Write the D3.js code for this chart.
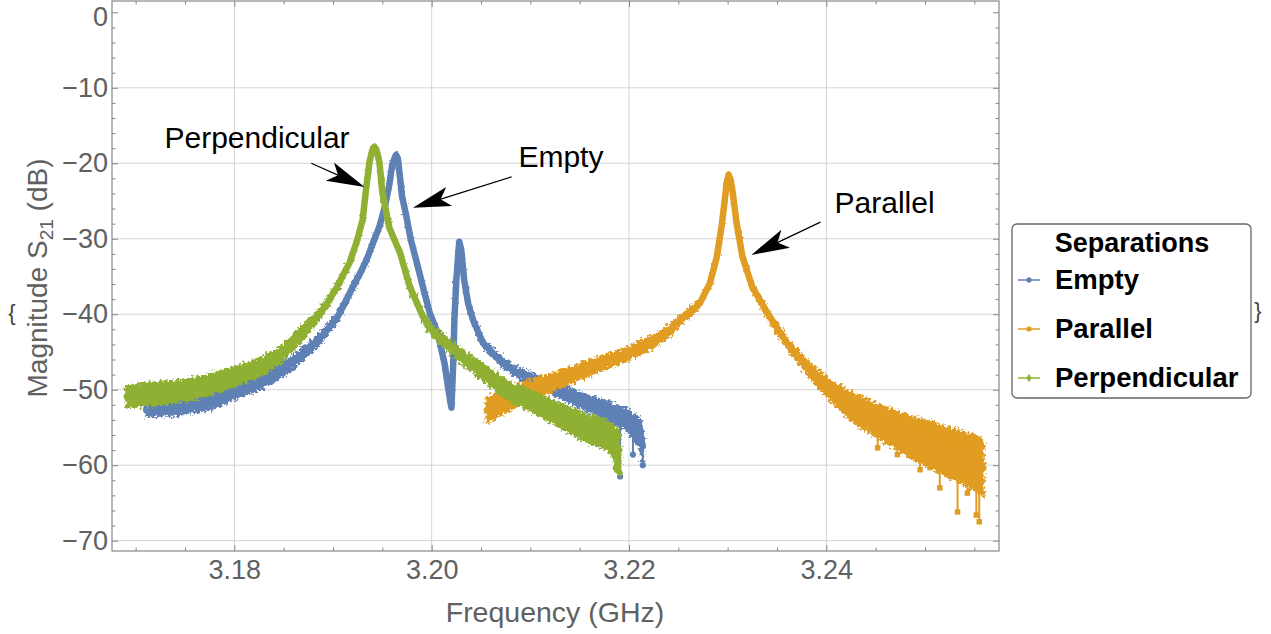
<!DOCTYPE html>
<html>
<head>
<meta charset="utf-8">
<script src="https://cdn.jsdelivr.net/npm/d3@7"></script>
<style>
  body { margin: 0; background: #fff; }
  svg { display: block; font-family: "Liberation Sans", Arial, sans-serif; }
</style>
</head>
<body>
<svg id="chart" width="1271" height="634"></svg>
<script>
// values (GHz, dB, noise half-width in dB)
const emptyFreq = [3.1711, 3.1724, 3.1742, 3.1755, 3.1775, 3.1798, 3.1826, 3.1846, 3.1859, 3.1871,
  3.1883, 3.1894, 3.1904, 3.1912, 3.1920, 3.1927, 3.1934, 3.1941, 3.1947, 3.1953, 3.1957, 3.1960,
  3.1963, 3.1964, 3.1966, 3.1968, 3.1970, 3.1974, 3.1979, 3.1985, 3.1992, 3.1998, 3.2006, 3.2013,
  3.2017, 3.2020, 3.2022, 3.2023, 3.2025, 3.2027, 3.2028, 3.2030, 3.2033, 3.2037, 3.2042, 3.2052,
  3.2066, 3.2082, 3.2102, 3.2127, 3.2150, 3.2177, 3.2198, 3.2211, 3.2214];
const emptyMag = [-52.5, -52.4, -52.4, -52.0, -51.6, -50.3, -49.0, -47.5, -46.5, -45.0,
  -43.7, -42.1, -40.5, -38.5, -36.4, -34.7, -32.8, -30.4, -28.4, -25.5, -22.9, -20.2,
  -19.1, -18.9, -19.6, -22.0, -24.4, -26.8, -30.2, -33.2, -36.8, -39.8, -42.5, -46.5,
  -50.0, -52.4, -46.0, -40.8, -35.5, -31.9, -30.4, -31.5, -35.5, -38.6, -40.8, -43.8,
  -45.7, -47.4, -48.7, -50.0, -51.4, -52.7, -54.0, -55.8, -57.5];
const emptyNoise = [1.0, 1.0, 1.0, 1.0, 1.0, 0.95, 0.9, 0.85, 0.8, 0.7,
  0.6, 0.5, 0.45, 0.4, 0.35, 0.3, 0.2, 0.15, 0.1, 0.1, 0.1, 0.1,
  0.1, 0.1, 0.1, 0.1, 0.1, 0.1, 0.1, 0.1, 0.1, 0.1, 0.1, 0.1,
  0.1, 0.1, 0.1, 0.1, 0.1, 0.1, 0.1, 0.1, 0.1, 0.2, 0.3, 0.4,
  0.5, 0.6, 0.75, 0.85, 0.95, 1.1, 1.3, 1.9, 2.1];
const emptySpikeFreq = [3.2191, 3.2204, 3.2214];
const emptySpikeMag = [-61.5, -58.6, -60.0];

const parallelFreq = [3.2056, 3.2064, 3.2076, 3.2092, 3.2110, 3.2127, 3.2143, 3.2160, 3.2177, 3.2194,
  3.2211, 3.2228, 3.2244, 3.2254, 3.2265, 3.2272, 3.2282, 3.2289, 3.2294, 3.2297, 3.2299, 3.2301,
  3.2303, 3.2305, 3.2309, 3.2315, 3.2325, 3.2340, 3.2360, 3.2380, 3.2403, 3.2421, 3.2437, 3.2454,
  3.2471, 3.2488, 3.2505, 3.2522, 3.2538, 3.2555, 3.2559];
const parallelMag = [-52.7, -52.2, -51.4, -50.4, -49.6, -48.8, -48.0, -47.1, -46.3, -45.5,
  -44.5, -43.4, -41.8, -40.5, -39.4, -38.5, -35.9, -32.4, -28.2, -24.9, -22.6, -21.5,
  -22.2, -23.8, -27.9, -32.4, -36.4, -39.8, -43.8, -47.0, -50.0, -51.8, -53.1, -54.3,
  -55.3, -56.4, -57.3, -58.2, -59.0, -60.0, -60.4];
const parallelNoise = [1.6, 1.5, 1.4, 1.3, 1.2, 1.1, 1.0, 0.95, 0.9, 0.85,
  0.8, 0.75, 0.6, 0.5, 0.45, 0.4, 0.3, 0.2, 0.1, 0.1, 0.1, 0.1,
  0.1, 0.1, 0.1, 0.2, 0.3, 0.45, 0.6, 0.8, 1.2, 1.7, 2.0, 2.2,
  2.4, 2.7, 3.0, 3.2, 3.4, 3.6, 3.6];
const parallelSpikeFreq = [3.2452, 3.2472, 3.2495, 3.2505, 3.2515, 3.2533, 3.2543, 3.2552, 3.2555];
const parallelSpikeMag = [-57.7, -58.6, -60.6, -60.3, -63.0, -66.2, -63.7, -66.6, -67.5];

const perpFreq = [3.1691, 3.1704, 3.1724, 3.1742, 3.1758, 3.1778, 3.1798, 3.1826, 3.1846, 3.1859,
  3.1871, 3.1883, 3.1894, 3.1904, 3.1917, 3.1924, 3.1930, 3.1933, 3.1937, 3.1940, 3.1942, 3.1944,
  3.1947, 3.1950, 3.1954, 3.1957, 3.1968, 3.1978, 3.1991, 3.2001, 3.2011, 3.2026, 3.2042, 3.2059,
  3.2076, 3.2092, 3.2109, 3.2127, 3.2143, 3.2160, 3.2177, 3.2184, 3.2190];
const perpMag = [-50.9, -50.7, -50.5, -50.2, -49.9, -49.2, -48.4, -47.0, -45.5, -43.8,
  -42.2, -40.5, -38.6, -36.4, -33.1, -30.4, -27.5, -24.0, -19.8, -18.2, -17.8, -18.2,
  -19.8, -23.9, -26.5, -28.5, -31.9, -36.4, -40.3, -42.3, -43.4, -45.1, -46.7, -48.4,
  -50.0, -51.0, -52.0, -53.2, -54.3, -55.2, -56.0, -56.8, -58.0];
const perpNoise = [1.4, 1.45, 1.45, 1.4, 1.35, 1.3, 1.2, 1.1, 1.0, 0.9,
  0.8, 0.65, 0.5, 0.4, 0.3, 0.2, 0.15, 0.1, 0.1, 0.1, 0.1, 0.1,
  0.1, 0.1, 0.1, 0.1, 0.15, 0.3, 0.45, 0.6, 0.7, 0.8, 0.95, 1.05,
  1.15, 1.25, 1.35, 1.5, 1.7, 1.8, 1.9, 2.0, 2.3];
const perpSpikeFreq = [3.2186, 3.2188, 3.2191];
const perpSpikeMag = [-60.4, -60.6, -61.0];

const legendTitle = "Separations";
const seriesNames = ["Empty", "Parallel", "Perpendicular"];
const xMajor = [3.18, 3.20, 3.22, 3.24];
const yMajor = [0, -10, -20, -30, -40, -50, -60, -70];

// annotations: [label, text freq, text dB, arrow start freq, dB, arrow tip freq, dB]
const notes = [
  ["Perpendicular", 3.1823, -18.0, 3.1878, -20.0, 3.1932, -23.15],
  ["Empty", 3.2131, -20.5, 3.2081, -21.8, 3.1981, -25.9],
  ["Parallel", 3.2459, -26.6, 3.2394, -27.8, 3.2324, -32.15]
];

const colors = ["#5e81b5", "#e19c24", "#8fb032"];
const symbols = [d3.symbolCircle, d3.symbolSquare, d3.symbolDiamond];

const svg = d3.select("#chart");
const frame = {left: 112, right: 999, top: 1, bottom: 551};

const x = d3.scaleLinear().domain([3.1676, 3.2575]).range([frame.left, frame.right]);
const y = d3.scaleLinear().domain([-71.37, 1.5]).range([frame.bottom, frame.top]);

const defs = svg.append("defs");
const rough = defs.append("filter").attr("id", "rough")
  .attr("x", "-5%").attr("y", "-5%").attr("width", "110%").attr("height", "110%");
rough.append("feTurbulence").attr("type", "fractalNoise").attr("baseFrequency", 0.35)
  .attr("numOctaves", 2).attr("seed", 4).attr("result", "noise");
rough.append("feDisplacementMap").attr("in", "SourceGraphic").attr("in2", "noise")
  .attr("scale", 9).attr("xChannelSelector", "R").attr("yChannelSelector", "G");
defs.append("clipPath").attr("id", "plotclip").append("rect")
  .attr("x", frame.left).attr("y", frame.top)
  .attr("width", frame.right - frame.left).attr("height", frame.bottom - frame.top);

// grid
const grid = svg.append("g").attr("stroke", "#d4d4d4").attr("stroke-width", 1);
grid.selectAll(".gx").data(xMajor).enter().append("line")
  .attr("x1", d => x(d)).attr("x2", d => x(d))
  .attr("y1", frame.top).attr("y2", frame.bottom);
grid.selectAll(".gy").data(yMajor.filter(d => d !== 0)).enter().append("line")
  .attr("y1", d => y(d)).attr("y2", d => y(d))
  .attr("x1", frame.left).attr("x2", frame.right);

// series
const series = [
  {f: emptyFreq, m: emptyMag, n: emptyNoise, sf: emptySpikeFreq, sm: emptySpikeMag},
  {f: parallelFreq, m: parallelMag, n: parallelNoise, sf: parallelSpikeFreq, sm: parallelSpikeMag},
  {f: perpFreq, m: perpMag, n: perpNoise, sf: perpSpikeFreq, sm: perpSpikeMag}
];

const plot = svg.append("g").attr("clip-path", "url(#plotclip)");
series.forEach((s, i) => {
  const pts = s.f.map((f, k) => ({f: f, m: s.m[k], n: s.n[k]}));
  const g = plot.append("g");
  const interp = d3.scaleLinear().domain(s.f).range(s.m);
  const band = d3.area()
    .x(d => x(d.f))
    .y0(d => y(d.m - d.n))
    .y1(d => y(d.m + d.n));
  g.append("path").datum(pts).attr("d", band)
    .attr("fill", colors[i]).attr("stroke", colors[i]).attr("stroke-width", 3)
    .attr("filter", "url(#rough)");
  g.append("path").datum(pts)
    .attr("d", d3.line().x(d => x(d.f)).y(d => y(d.m)))
    .attr("fill", "none").attr("stroke", colors[i]).attr("stroke-width", 6.5)
    .attr("stroke-linejoin", "round").attr("stroke-linecap", "round");
  const spikes = s.sf.map((f, k) => ({f: f, m: s.sm[k]}));
  g.selectAll(".spk").data(spikes).enter().append("line")
    .attr("x1", d => x(d.f)).attr("x2", d => x(d.f))
    .attr("y1", d => y(interp(d.f))).attr("y2", d => y(d.m))
    .attr("stroke", colors[i]).attr("stroke-width", 2);
  g.selectAll(".spm").data(spikes).enter().append("path")
    .attr("d", d3.symbol().type(symbols[i]).size(30))
    .attr("transform", d => `translate(${x(d.f)},${y(d.m)})`)
    .attr("fill", colors[i]);
});

// frame and ticks
const axisColor = "#888";
const tickText = "#606060";
function styleAxis(g) {
  g.select(".domain").remove();
  g.selectAll(".tick line").attr("stroke", axisColor);
  g.selectAll(".tick text").attr("fill", tickText).attr("font-size", 27);
}
const xMinor = d3.range(3.17, 3.256, 0.005).filter(v => !xMajor.some(m => Math.abs(m - v) < 1e-6));
const yMinor = d3.range(0, -71, -2).filter(v => v % 10 !== 0);

svg.append("g").attr("transform", `translate(0,${frame.bottom})`)
  .call(d3.axisBottom(x).tickValues(xMajor).tickFormat(d3.format(".2f")).tickSize(-6).tickPadding(9))
  .call(styleAxis);
svg.append("g").attr("transform", `translate(0,${frame.bottom})`)
  .call(d3.axisBottom(x).tickValues(xMinor).tickFormat("").tickSize(-3.5)).call(styleAxis);
svg.append("g").attr("transform", `translate(0,${frame.top})`)
  .call(d3.axisTop(x).tickValues(xMajor).tickFormat("").tickSize(-6)).call(styleAxis);
svg.append("g").attr("transform", `translate(0,${frame.top})`)
  .call(d3.axisTop(x).tickValues(xMinor).tickFormat("").tickSize(-3.5)).call(styleAxis);
const yAxisG = svg.append("g").attr("transform", `translate(${frame.left},0)`)
  .call(d3.axisLeft(y).tickValues(yMajor).tickFormat(d3.format("d")).tickSize(-6).tickPadding(4))
  .call(styleAxis);
// the top label sits against the page edge; nudge it down a little so it stays whole
yAxisG.selectAll(".tick text").filter(d => d === 0).attr("dy", "0.47em");
svg.append("g").attr("transform", `translate(${frame.left},0)`)
  .call(d3.axisLeft(y).tickValues(yMinor).tickFormat("").tickSize(-3.5)).call(styleAxis);
svg.append("g").attr("transform", `translate(${frame.right},0)`)
  .call(d3.axisRight(y).tickValues(yMajor).tickFormat("").tickSize(-6)).call(styleAxis);
svg.append("g").attr("transform", `translate(${frame.right},0)`)
  .call(d3.axisRight(y).tickValues(yMinor).tickFormat("").tickSize(-3.5)).call(styleAxis);
svg.selectAll("g text").attr("font-family", "'Liberation Sans', Arial, sans-serif");

svg.append("rect").attr("x", frame.left).attr("y", frame.top)
  .attr("width", frame.right - frame.left).attr("height", frame.bottom - frame.top)
  .attr("fill", "none").attr("stroke", axisColor).attr("stroke-width", 1.2);

// axis labels
svg.append("text").attr("x", 555).attr("y", 622).attr("text-anchor", "middle")
  .attr("font-size", 28.5).attr("fill", tickText).text("Frequency (GHz)");
const yl = svg.append("text").attr("transform", "translate(47,278) rotate(-90)")
  .attr("text-anchor", "middle").attr("font-size", 28).attr("fill", tickText);
yl.append("tspan").text("Magnitude S");
yl.append("tspan").attr("font-size", 19).attr("dy", 6).text("21");
yl.append("tspan").attr("dy", -6).text(" (dB)");

// annotations
const ann = svg.append("g");
notes.forEach(n => {
  ann.append("text").attr("x", x(n[1])).attr("y", y(n[2])).attr("text-anchor", "middle")
    .attr("font-size", 30).attr("fill", "#000").text(n[0]);
  const x0 = x(n[3]), y0 = y(n[4]), x1 = x(n[5]), y1 = y(n[6]);
  const ang = Math.atan2(y1 - y0, x1 - x0) * 180 / Math.PI;
  const len = Math.hypot(x1 - x0, y1 - y0);
  const a = ann.append("g").attr("transform", `translate(${x0},${y0}) rotate(${ang})`);
  a.append("line").attr("x1", 0).attr("x2", len - 20).attr("y1", 0).attr("y2", 0)
    .attr("stroke", "#000").attr("stroke-width", 1.2);
  a.append("path").attr("d", `M${len},0 L${len - 38},-10 L${len - 29},0 L${len - 38},10 Z`)
    .attr("fill", "#000");
});

// legend
const lg = svg.append("g");
lg.append("rect").attr("x", 1012).attr("y", 224).attr("width", 239).attr("height", 174)
  .attr("rx", 5).attr("fill", "#fff").attr("stroke", "#666").attr("stroke-width", 1.3);
lg.append("text").attr("x", 1132).attr("y", 252).attr("text-anchor", "middle")
  .attr("font-size", 27).attr("font-weight", "bold").attr("fill", "#000").text(legendTitle);
const rowY = [280, 329, 378];
seriesNames.forEach((name, i) => {
  lg.append("line").attr("x1", 1018).attr("x2", 1040).attr("y1", rowY[i]).attr("y2", rowY[i])
    .attr("stroke", colors[i]).attr("stroke-width", 1.5);
  lg.append("path").attr("d", d3.symbol().type(symbols[i]).size(22))
    .attr("transform", `translate(1029,${rowY[i]})`).attr("fill", colors[i]);
  lg.append("text").attr("x", 1055).attr("y", rowY[i] + 9).attr("font-size", 27.5)
    .attr("font-weight", "bold").attr("fill", "#000").text(name);
});

// braces left over from the notebook output
svg.append("text").attr("x", 12).attr("y", 320).attr("text-anchor", "middle")
  .attr("font-size", 22).attr("fill", "#444").text("{");
svg.append("text").attr("x", 1258).attr("y", 318).attr("text-anchor", "middle")
  .attr("font-size", 22).attr("fill", "#444").text("}");
</script>
</body>
</html>
